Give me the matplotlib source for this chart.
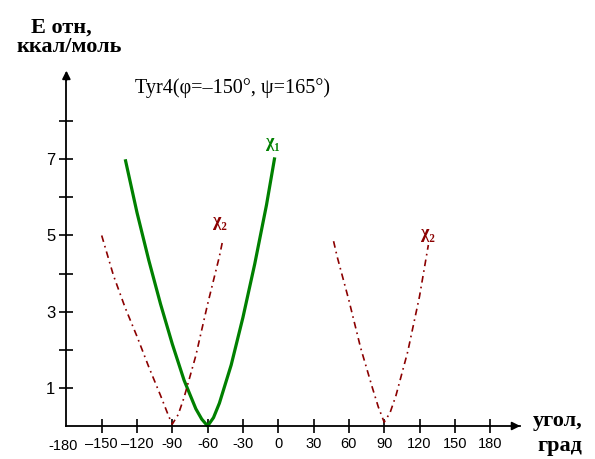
import matplotlib.pyplot as plt

# energy profiles, angle in degrees vs relative energy (kcal/mol)
green_deg = [-130, -120, -110, -100, -90, -80, -70, -65, -60, -55, -50, -40, -30, -20, -10, -3]
green_E = [7.0, 5.6, 4.35, 3.2, 2.15, 1.2, 0.45, 0.18, 0.0, 0.22, 0.6, 1.6, 2.85, 4.25, 5.8, 7.05]

red1_deg = [-150, -140, -130, -120, -110, -100, -93, -90, -85, -80, -70, -60, -50, -47]
red1_E = [5.0, 3.95, 3.1, 2.35, 1.55, 0.8, 0.25, 0.05, 0.3, 0.75, 1.85, 3.2, 4.45, 4.9]

red2_deg = [47, 50, 60, 70, 80, 85, 90, 95, 100, 110, 120, 127.5]
red2_E = [4.85, 4.45, 3.3, 2.05, 1.0, 0.5, 0.1, 0.35, 0.8, 1.95, 3.4, 4.75]

xticks = [-150, -120, -90, -60, -30, 0, 30, 60, 90, 120, 150, 180]
xlabels = ['–150', '–120', '-90', '-60', '-30', '0', '30', '60', '90', '120', '150', '180']
yticks = [1, 2, 3, 4, 5, 6, 7, 8]
ylabels = ['1', '', '3', '', '5', '', '7', '']

serif = ['Liberation Serif', 'DejaVu Serif']
sans = ['Liberation Sans', 'DejaVu Sans']
dark_red = '#8b0000'
green = '#008000'

fig = plt.figure(figsize=(5.95, 4.59), dpi=100)
ax = fig.add_axes([0, 0, 1, 1])
ax.set_xlim(-236.4, 269.1)
ax.set_ylim(-0.866, 11.18)

ax.plot(green_deg, green_E, color=green, lw=2.3, solid_capstyle='butt')
dashdot = (0, (4, 2.5, 1, 2.5))
ax.plot(red1_deg, red1_E, color=dark_red, lw=1.2, linestyle=dashdot)
ax.plot(red2_deg, red2_E, color=dark_red, lw=1.2, linestyle=dashdot)

# axes as arrows through the origin (-180, 0)
for s in ['top', 'right']:
    ax.spines[s].set_visible(False)
ax.spines['left'].set_position(('data', -180))
ax.spines['bottom'].set_position(('data', 0))
ax.spines['left'].set_bounds(0, 9.2)
ax.spines['bottom'].set_bounds(-180, 205)
ax.spines['left'].set_linewidth(1.3)
ax.spines['bottom'].set_linewidth(1.3)
ax.annotate('', xy=(208, 0), xytext=(200, 0),
            arrowprops=dict(arrowstyle='-|>', color='black', lw=1.3, mutation_scale=12))
ax.annotate('', xy=(-180, 9.4), xytext=(-180, 9.0),
            arrowprops=dict(arrowstyle='-|>', color='black', lw=1.3, mutation_scale=12))

ax.set_xticks(xticks)
ax.set_xticklabels(xlabels, family=sans, fontsize=10.5)
ax.set_yticks(yticks)
ax.set_yticklabels(ylabels, family=sans, fontsize=12)
ax.tick_params(direction='inout', length=10, width=1.2, pad=3)
ax.text(-183, -0.53, '-180', family=sans, fontsize=10.5, ha='center', va='center')

ax.text(-184.6, 10.45, 'E отн,', family=serif, fontsize=16, fontweight='bold',
        ha='center', va='center')
ax.text(-177.8, 9.95, 'ккал/моль', family=serif, fontsize=16, fontweight='bold',
        ha='center', va='center')
ax.text(216, 0.12, 'угол,', family=serif, fontsize=16, fontweight='bold',
        ha='left', va='center')
ax.text(220, -0.52, 'град', family=serif, fontsize=16, fontweight='bold',
        ha='left', va='center')

ax.text(-121.8, 8.87, 'Tyr4(φ=–150°, ψ=165°)', family=serif, fontsize=14.5,
        ha='left', va='center')

ax.text(-4.5, 7.43, 'χ₁', family=serif, fontsize=13, fontweight='bold',
        color=green, ha='center', va='center')
ax.text(-49.5, 5.36, 'χ₂', family=serif, fontsize=13, fontweight='bold',
        color=dark_red, ha='center', va='center')
ax.text(127.5, 5.06, 'χ₂', family=serif, fontsize=13, fontweight='bold',
        color=dark_red, ha='center', va='center')

fig.savefig('out.png', dpi=100)
